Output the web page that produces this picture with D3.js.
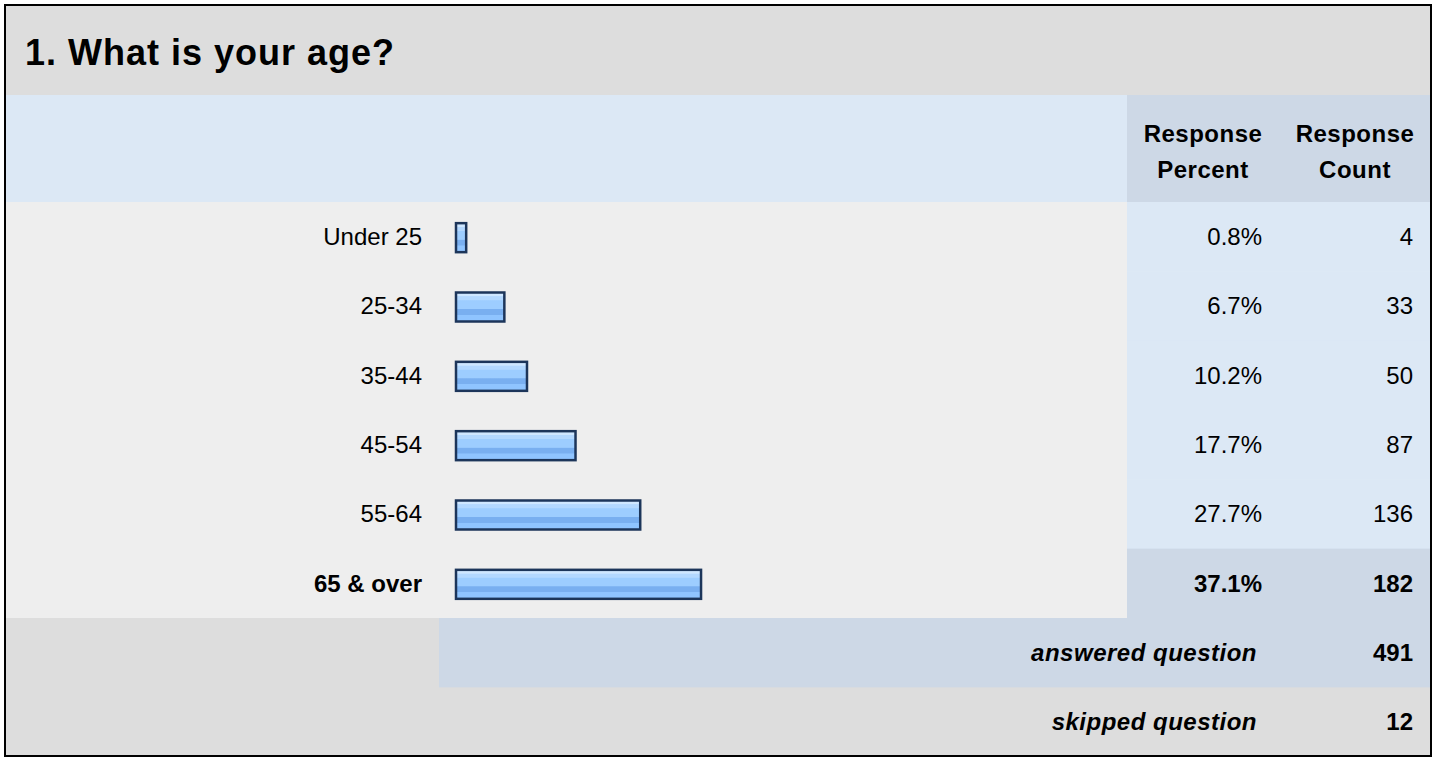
<!DOCTYPE html>
<html>
<head>
<meta charset="utf-8">
<script src="https://cdn.jsdelivr.net/npm/d3@7"></script>
<style>
    body { margin: 0; background: #ffffff; }
    text { font-family: "Liberation Sans", Arial, Helvetica, sans-serif; fill: #000000; }
</style>
</head>
<body>
<div id="chartContainer"></div>
<script>
'use strict';

const title = "1. What is your age?";

const categories = ["Under 25", "25-34", "35-44", "45-54", "55-64", "65 & over"];

const percents = [0.8, 6.7, 10.2, 17.7, 27.7, 37.1];

const counts = [4, 33, 50, 87, 136, 182];

const headerLabels = [["Response", "Percent"], ["Response", "Count"]];

const summaryLabels = ["answered question", "skipped question"];

const summaryValues = [491, 12];

// the most chosen answer gets the highlighted row
const topIndex = d3.maxIndex(counts);

const width = 1437,
    height = 758;

const colLeft = 6,
    colBars = 439,
    colPercent = 1127,
    colRight = 1430;

// Creates the svg element
const createSVG = () => {
    return d3.select("#chartContainer")
        .append("svg")
        .attr("width", width)
        .attr("height", height);
}

// Bar fill, a striped vertical gradient
const createGradient = (svg) => {
    const grad = svg.append("defs")
        .append("linearGradient")
        .attr("id", "barFill")
        .attr("x1", 0).attr("y1", 0)
        .attr("x2", 0).attr("y2", 1);

    const stops = [
        [0, "#cfe7ff"], [0.12, "#cfe7ff"], [0.14, "#b3d8ff"], [0.26, "#b3d8ff"],
        [0.28, "#9dcdff"], [0.56, "#9dcdff"], [0.58, "#79aff0"], [0.76, "#79aff0"],
        [0.78, "#8fc4ff"], [1, "#8fc4ff"]
    ];
    grad.selectAll("stop")
        .data(stops)
        .enter()
        .append("stop")
        .attr("offset", d => d[0])
        .attr("stop-color", d => d[1]);
}

const plotBackground = (svg, y) => {
    const rowsTop = y.range()[0],
        rowsBottom = y.range()[1];
    const sumH = y.step();

    // title band
    svg.append("rect").attr("x", colLeft).attr("y", 6)
        .attr("width", colRight - colLeft).attr("height", 95 - 6).attr("fill", "#dddddd");

    // header
    svg.append("rect").attr("x", colLeft).attr("y", 95)
        .attr("width", colPercent - colLeft).attr("height", rowsTop - 95).attr("fill", "#dce8f5");
    svg.append("rect").attr("x", colPercent).attr("y", 95)
        .attr("width", colRight - colPercent).attr("height", rowsTop - 95).attr("fill", "#cdd8e6");

    // answer rows
    svg.append("rect").attr("x", colLeft).attr("y", rowsTop)
        .attr("width", colPercent - colLeft).attr("height", rowsBottom - rowsTop).attr("fill", "#eeeeee");

    svg.selectAll(".valueCell")
        .data(categories)
        .enter()
        .append("rect")
        .attr("class", "valueCell")
        .attr("x", colPercent)
        .attr("y", d => y(d))
        .attr("width", colRight - colPercent)
        .attr("height", y.step() + 0.5)
        .attr("fill", (d, i) => i === topIndex ? "#cdd8e6" : "#dce8f5");

    // answered / skipped rows
    svg.append("rect").attr("x", colLeft).attr("y", rowsBottom)
        .attr("width", colRight - colLeft).attr("height", 756 - rowsBottom).attr("fill", "#dddddd");
    svg.append("rect").attr("x", colBars).attr("y", rowsBottom)
        .attr("width", colRight - colBars).attr("height", sumH).attr("fill", "#cdd8e6");

    // frame
    svg.append("rect").attr("x", 5).attr("y", 5)
        .attr("width", colRight - 4).attr("height", 751)
        .attr("fill", "none").attr("stroke", "#000000").attr("stroke-width", 2);
}

const plotText = (svg, y) => {
    svg.append("text")
        .attr("x", 25).attr("y", 65)
        .style("font-size", "36px").style("font-weight", "bold")
        .style("letter-spacing", "1px")
        .text(title);

    // column headers
    const headerX = [1203, 1355];
    headerLabels.forEach((lines, c) => {
        svg.append("text")
            .attr("text-anchor", "middle")
            .style("font-size", "24px").style("font-weight", "bold")
            .style("letter-spacing", "0.5px")
            .selectAll("tspan")
            .data(lines)
            .enter()
            .append("tspan")
            .attr("x", headerX[c])
            .attr("y", (d, i) => 142 + i * 36)
            .text(d => d);
    });

    const rowText = (cls, x, fmt) => {
        svg.selectAll("." + cls)
            .data(categories)
            .enter()
            .append("text")
            .attr("class", cls)
            .attr("x", x)
            .attr("y", d => y(d) + y.bandwidth() / 2)
            .attr("dy", "0.35em")
            .attr("text-anchor", "end")
            .style("font-size", "24px")
            .style("font-weight", (d, i) => i === topIndex ? "bold" : "normal")
            .text(fmt);
    }
    rowText("catLabel", 422, d => d);
    rowText("pctLabel", 1262, (d, i) => percents[i].toFixed(1) + "%");
    rowText("cntLabel", 1413, (d, i) => counts[i]);

    // answered / skipped
    const rowsBottom = y.range()[1];
    summaryLabels.forEach((label, i) => {
        const cy = rowsBottom + y.step() * (i + 0.5);
        svg.append("text")
            .attr("x", 1257).attr("y", cy).attr("dy", "0.35em")
            .attr("text-anchor", "end")
            .style("font-size", "24px").style("font-weight", "bold").style("font-style", "italic")
            .style("letter-spacing", "0.5px")
            .text(label);
        svg.append("text")
            .attr("x", 1413).attr("y", cy).attr("dy", "0.35em")
            .attr("text-anchor", "end")
            .style("font-size", "24px").style("font-weight", "bold")
            .text(summaryValues[i]);
    });
}

// Plots the bars
const plotBars = (svg, x, y) => {
    const barH = 29;
    svg.selectAll(".bar")
        .data(categories)
        .enter()
        .append("rect")
        .attr("class", "bar")
        .attr("x", x(0))
        .attr("y", d => y(d) + (y.bandwidth() - barH) / 2 + 1)
        .attr("width", (d, i) => Math.max(x(percents[i]) - x(0), 0) + 5)
        .attr("height", barH)
        .attr("fill", "url(#barFill)")
        .attr("stroke", "#1c355a")
        .attr("stroke-width", 2.5);
}

const drawChart = () => {
    const svg = createSVG();
    createGradient(svg);

    const y = d3.scaleBand()
        .domain(categories)
        .range([202, 618])
        .padding(0);

    const x = d3.scaleLinear()
        .domain([0, 100])
        .range([456, 456 + 647]);

    plotBackground(svg, y);
    plotBars(svg, x, y);
    plotText(svg, y);
}

drawChart();
</script>
</body>
</html>
